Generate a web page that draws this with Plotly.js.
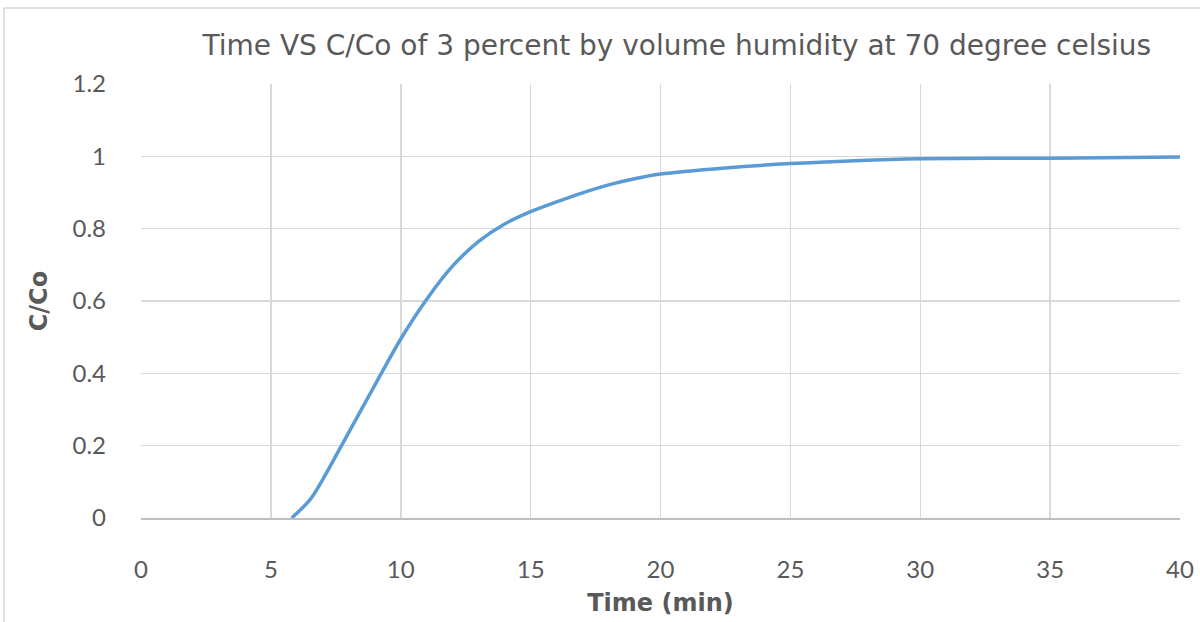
<!DOCTYPE html>
<html>
<head>
<meta charset="utf-8">
<script src="https://cdn.plot.ly/plotly-3.0.1.min.js"></script>
<style>html,body{margin:0;padding:0;background:#fff;}#chart{width:1200px;height:622px;}</style>
</head>
<body>
<div id="chart"></div>
<script>
const timeMin = [5.8, 6.5, 7, 8, 9, 10, 11, 12, 13, 14, 15, 16, 17, 18, 19, 20, 22.5, 25, 27.5, 30, 35, 40];
const cOverCo = [0.0, 0.05, 0.107, 0.237, 0.367, 0.495, 0.605, 0.697, 0.765, 0.813, 0.847, 0.874, 0.899, 0.921, 0.938, 0.951, 0.968, 0.98, 0.988, 0.993, 0.995, 0.998];
const xTicks = [0, 5, 10, 15, 20, 25, 30, 35, 40];
const yTicks = [0, 0.2, 0.4, 0.6, 0.8, 1, 1.2];
const yTickText = ['0', '0.2', '0.4', '0.6', '0.8', '1', '1.2'];

const txt = '#595959';
const tickFam = 'Lato, "Open Sans", sans-serif';
const titleFam = '"DejaVu Sans", "Open Sans", sans-serif';

const trace = {
  x: timeMin, y: cOverCo, type: 'scatter', mode: 'lines',
  line: {color: '#5b9bd5', width: 3.5, shape: 'spline', smoothing: 0.9},
  hoverinfo: 'x+y'
};

const layout = {
  width: 1200, height: 622,
  margin: {l: 141, r: 20, t: 84, b: 104},
  paper_bgcolor: '#ffffff', plot_bgcolor: '#ffffff',
  showlegend: false,
  title: {text: 'Time VS C/Co of 3 percent by volume humidity at 70 degree celsius',
    font: {family: titleFam, size: 28, color: txt}, x: 0.564, xanchor: 'center', y: 0.927, yanchor: 'middle'},
  xaxis: {range: [0, 40], tickvals: xTicks, ticktext: xTicks.map(String),
    showgrid: true, gridcolor: '#d9d9d9', gridwidth: 1.5,
    zeroline: false, showline: true, linecolor: '#bfbfbf', linewidth: 1.5,
    ticks: '', ticklabelstandoff: 30,
    tickfont: {family: tickFam, size: 24, color: txt},
    title: {text: '<b>Time (min)</b>', font: {family: titleFam, size: 24, color: txt}, standoff: 12}},
  yaxis: {range: [0, 1.2], tickvals: yTicks, ticktext: yTickText,
    showgrid: true, gridcolor: '#d9d9d9', gridwidth: 1.5,
    zeroline: false, showline: false, ticks: '', ticklabelstandoff: 34,
    tickfont: {family: tickFam, size: 24, color: txt},
    title: {text: '<b>C/Co</b>', font: {family: titleFam, size: 24, color: txt}, standoff: 18}},
  shapes: [{type: 'rect', xref: 'paper', yref: 'paper',
    x0: -0.1319, x1: 1.1, y0: -0.3, y1: 1.175,
    line: {color: '#d9d9d9', width: 1.5}, fillcolor: 'rgba(0,0,0,0)', layer: 'below'}]
};

Plotly.newPlot('chart', [trace], layout, {displayModeBar: false, staticPlot: true});
</script>
</body>
</html>
